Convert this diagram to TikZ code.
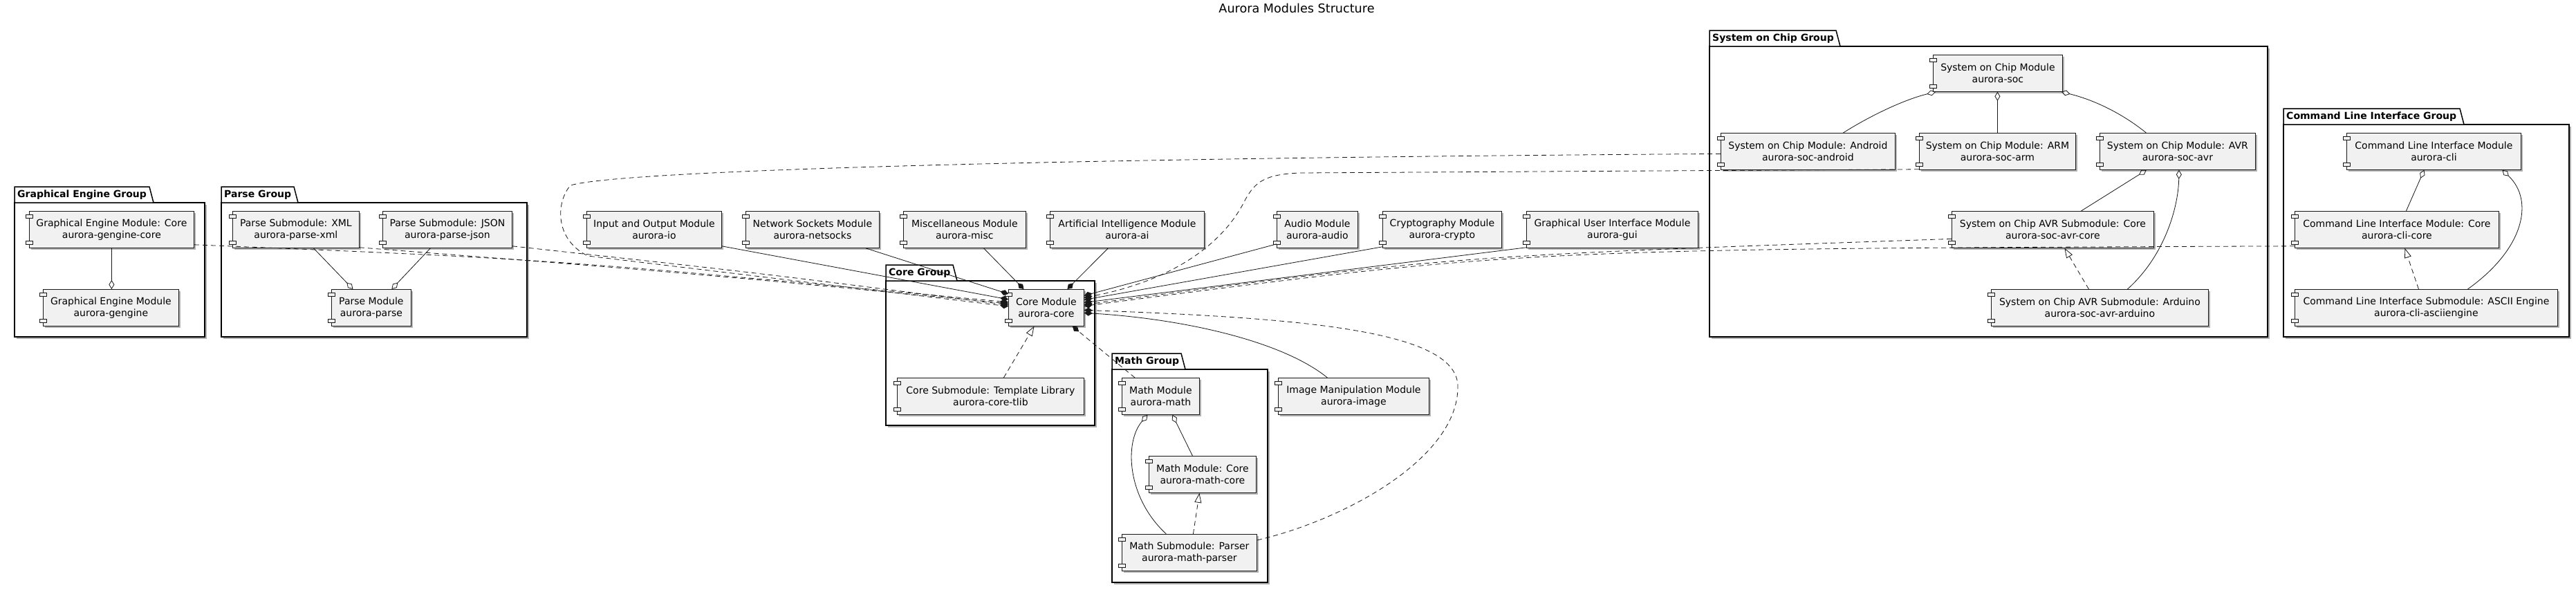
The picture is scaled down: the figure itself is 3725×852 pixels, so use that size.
\documentclass[tikz,border=0pt]{standalone}
\usepackage{fontspec}
\setmainfont{DejaVu Sans}
\usetikzlibrary{arrows.meta, positioning, calc, shadows}
\definecolor{umlink}{HTML}{181818}
\definecolor{umlfill}{HTML}{F1F1F1}

\tikzset{
  module/.style={draw=umlink, fill=umlfill, line width=0.8pt, minimum height=53pt, inner xsep=0pt,
    align=center, anchor=north west, font=\fontsize{14}{16.5}\selectfont,
    drop shadow={shadow xshift=3pt, shadow yshift=-3pt, opacity=0.3, fill=black}},
  modport/.style={draw=umlink, fill=umlfill, line width=0.8pt},
  groupframe/.style={draw=black, line width=1.5pt, fill=white,
    drop shadow={shadow xshift=3pt, shadow yshift=-3pt, opacity=0.3, fill=black}},
  grouptab/.style={draw=black, line width=1.5pt, fill=white},
  grouplabel/.style={anchor=west, inner sep=0pt, font=\bfseries\fontsize{14}{16}\selectfont},
  link/.style={draw=umlink, line width=0.8pt},
  dep/.style={link, dash pattern=on 7pt off 5pt},
  partof/.style={link, -{Diamond[length=12pt, width=8pt, fill=umlink]}},
  aggreg/.style={link, -{Diamond[open, length=13pt, width=8pt]}},
  implements/.style={dep, -{Triangle[open, length=14pt, width=10pt]}},
}

% name, left, tab top, right, bottom, tab right, label
\newcommand{\modgroup}[7]{%
  \draw[groupframe] (#2,#3+23) rectangle (#4,#5);
  \draw[grouptab] (#2,#3+23) -- (#2,#3) -- (#6-6,#3) -- (#6,#3+23) -- cycle;
  \node[grouplabel] (#1) at (#2+4,#3+11.5) {#7};
}

\begin{document}
\begin{tikzpicture}[x=1pt, y=-1pt]
  \useasboundingbox (0,0) rectangle (3725,852);
  \fill[white] (0,0) rectangle (3725,852);

  \node[font=\fontsize{17.6}{20}\selectfont] (title) at (1875,11.5) {Aurora Modules Structure};

  % groups
  \modgroup{gegroup}{21}{270}{296}{487}{222}{Graphical Engine Group}
  \modgroup{parsegroup}{320}{270}{762}{487}{431}{Parse Group}
  \modgroup{coregroup}{1281}{383}{1583}{615}{1384}{Core Group}
  \modgroup{mathgroup}{1608}{511}{1833}{842}{1714}{Math Group}
  \modgroup{socgroup}{2472}{44}{3279}{487}{2661}{System on Chip Group}
  \modgroup{cligroup}{3302}{157}{3715}{487}{3563}{Command Line Interface Group}

  % modules
  \node[module, minimum width=238pt] (gecore) at (42,305) {Graphical Engine Module: Core\\aurora-gengine-core};
  \node[module, minimum width=196pt] (gengine) at (62,418) {Graphical Engine Module\\aurora-gengine};
  \node[module, minimum width=183pt] (parsexml) at (336,305) {Parse Submodule: XML\\aurora-parse-xml};
  \node[module, minimum width=187pt] (parsejson) at (553,305) {Parse Submodule: JSON\\aurora-parse-json};
  \node[module, minimum width=115pt] (parse) at (479,418) {Parse Module\\aurora-parse};
  \node[module, minimum width=195pt] (io) at (848,305) {Input and Output Module\\aurora-io};
  \node[module, minimum width=193pt] (netsocks) at (1078,305) {Network Sockets Module\\aurora-netsocks};
  \node[module, minimum width=177pt] (misc) at (1306,305) {Miscellaneous Module\\aurora-misc};
  \node[module, minimum width=223pt] (ai) at (1518,305) {Artificial Intelligence Module\\aurora-ai};
  \node[module, minimum width=117pt] (audio) at (1846,305) {Audio Module\\aurora-audio};
  \node[module, minimum width=172pt] (crypto) at (1999,305) {Cryptography Module\\aurora-crypto};
  \node[module, minimum width=248pt] (gui) at (2207,305) {Graphical User Interface Module\\aurora-gui};
  \node[module, minimum width=109pt] (core) at (1458,418) {Core Module\\aurora-core};
  \node[module, minimum width=270pt] (tlib) at (1297,546) {Core Submodule: Template Library\\aurora-core-tlib};
  \node[module, minimum width=112pt] (math) at (1622,546) {Math Module\\aurora-math};
  \node[module, minimum width=155pt] (mathcore) at (1661,659) {Math Module: Core\\aurora-math-core};
  \node[module, minimum width=195pt] (parser) at (1622,772) {Math Submodule: Parser\\aurora-math-parser};
  \node[module, minimum width=218pt] (image) at (1848,546) {Image Manipulation Module\\aurora-image};
  \node[module, minimum width=187pt] (soc) at (2795,79) {System on Chip Module\\aurora-soc};
  \node[module, minimum width=252pt] (android) at (2488,192) {System on Chip Module: Android\\aurora-soc-android};
  \node[module, minimum width=226pt] (arm) at (2775,192) {System on Chip Module: ARM\\aurora-soc-arm};
  \node[module, minimum width=225pt] (avr) at (3036,192) {System on Chip Module: AVR\\aurora-soc-avr};
  \node[module, minimum width=292pt] (avrcore) at (2822,305) {System on Chip AVR Submodule: Core\\aurora-soc-avr-core};
  \node[module, minimum width=314pt] (arduino) at (2879,418) {System on Chip AVR Submodule: Arduino\\aurora-soc-avr-arduino};
  \node[module, minimum width=252pt] (cli) at (3393,192) {Command Line Interface Module\\aurora-cli};
  \node[module, minimum width=295pt] (clicore) at (3318,305) {Command Line Interface Module: Core\\aurora-cli-core};
  \node[module, minimum width=380pt] (ascii) at (3318,418) {Command Line Interface Submodule: ASCII Engine\\aurora-cli-asciiengine};

  \foreach \m in {gecore, gengine, parsexml, parsejson, parse, io, netsocks, misc, ai, audio, crypto, gui,
    core, tlib, math, mathcore, parser, image, soc, android, arm, avr, avrcore, arduino, cli, clicore, ascii} {
    \draw[modport] ([shift={(-5pt,-5pt)}]\m.north west) rectangle ++(10pt,-5pt);
    \draw[modport] ([shift={(-5pt,5pt)}]\m.south west) rectangle ++(10pt,5pt);
  }

  % links inside the groups
  \draw[aggreg] (gecore.south) -- (gecore.south |- gengine.north);
  \draw[aggreg] ($(parsexml.south)+(25.5,0)$) -- ($(parse.north)+(-26.5,0)$);
  \draw[aggreg] ($(parsejson.south)+(-24.5,0)$) -- ($(parse.north)+(29.5,0)$);
  \draw[implements] ($(tlib.north)+(19,0)$) -- ($(core.south)+(-17.5,0)$);
  \draw[aggreg] ($(mathcore.north)+(-14.5,0)$) -- ($(math.south)+(17,0)$);
  \draw[aggreg] ($(parser.north)+(-33.5,0)$) .. controls (1630,720) and (1625,640) .. ($(math.south)+(-19,0)$);
  \draw[implements] ($(parser.north)+(5.5,0)$) -- ($(mathcore.south)+(-4.5,0)$);
  \draw[aggreg] ($(android.north)+(51,0)$) .. controls (2700,170) and (2750,145) .. ($(soc.south west)+(4,0)$);
  \draw[aggreg] (arm.north) -- (arm.north |- soc.south);
  \draw[aggreg] ($(avr.north)+(-45.5,0)$) .. controls (3070,165) and (3030,145) .. ($(soc.south east)+(-2,0)$);
  \draw[aggreg] ($(avrcore.north)+(41,0)$) -- ($(avr.south)+(-45,0)$);
  \draw[aggreg] ($(arduino.north)+(40,0)$) .. controls (3130,370) and (3150,300) .. ($(avr.south)+(2,0)$);
  \draw[implements] ($(arduino.north)+(-16,0)$) -- ($(avrcore.south)+(17,0)$);
  \draw[aggreg] ($(clicore.north)+(13.5,0)$) -- ($(cli.south)+(-14,0)$);
  \draw[aggreg] ($(ascii.north)+(60,0)$) .. controls (3650,360) and (3665,290) .. ($(cli.south)+(99,0)$);
  \draw[implements] ($(ascii.north)+(-11,0)$) -- ($(clicore.south)+(11.5,0)$);

  % links into the core module
  \draw[partof] ($(netsocks.south east)+(-20,0)$) -- ($(core.west)+(0,-20)$);
  \draw[partof] ($(io.south east)+(0,-3)$) -- ($(core.west)+(0,-12)$);
  \draw[dep, partof] ($(gecore.south east)+(0,-5)$) .. controls (800,375) .. ($(core.west)+(0,-8)$);
  \draw[dep, partof] ($(parsexml.south east)+(0,-1)$) .. controls (1000,395) .. ($(core.west)+(0,-6)$);
  \draw[dep, partof] ($(parsejson.south east)+(0,-3)$) .. controls (1100,395) .. ($(core.west)+(0,-4)$);
  \draw[dep, partof] ($(android.west)+(0,3.5)$) .. controls (1600,228) and (900,245) .. (825,268)
    .. controls (805,290) and (800,345) .. (850,370) -- ($(core.west)+(0,-2)$);
  \draw[partof] ($(misc.south)+(27.5,0)$) -- ($(core.north)+(-32.5,0)$);
  \draw[partof] ($(ai.south)+(-27.5,0)$) -- ($(core.north)+(30.5,0)$);
  \draw[partof] ($(audio.south west)+(0,-6)$) -- ($(core.east)+(0,-17.5)$);
  \draw[dep, partof] ($(arm.south west)+(0,-1)$) -- (1880,250) .. controls (1830,252) and (1815,262) .. (1800,290)
    .. controls (1770,350) and (1700,405) .. ($(core.east)+(0,-14.5)$);
  \draw[partof] ($(crypto.south west)+(0,-2)$) -- ($(core.east)+(0,-11.5)$);
  \draw[partof] ($(gui.south west)+(0,-1)$) -- ($(core.east)+(0,-7.5)$);
  \draw[dep, partof] ($(avrcore.west)+(0,13.5)$) .. controls (2100,370) .. ($(core.east)+(0,-4.5)$);
  \draw[dep, partof] ($(clicore.south west)+(0,-3)$) .. controls (2200,360) .. ($(core.east)+(0,-2.5)$);
  \draw[dep, partof] ($(parser.north east)+(0,9)$) .. controls (1950,750) and (2108,660) .. (2108,560)
    .. controls (2110,480) and (1900,460) .. ($(core.east)+(0,3.5)$);
  \draw[partof] ($(image.north)+(-38,0)$) .. controls (1850,490) and (1700,460) .. ($(core.east)+(0,7.5)$);
  \draw[dep, partof] ($(math.north west)+(19,0)$) -- ($(core.south)+(38,0)$);
\end{tikzpicture}
\end{document}
